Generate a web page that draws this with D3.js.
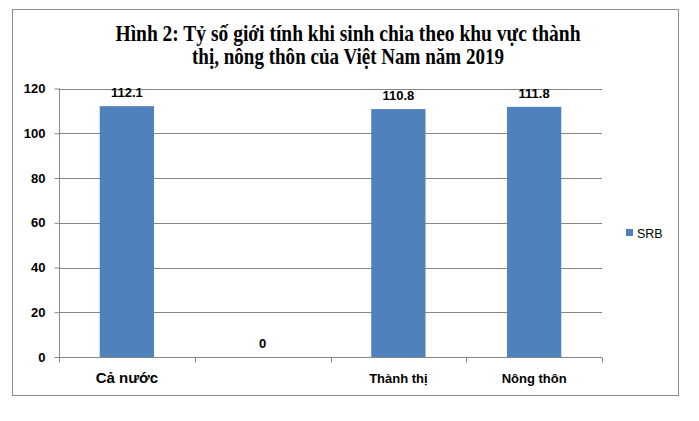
<!DOCTYPE html>
<html><head><meta charset="utf-8">
<script src="https://cdn.jsdelivr.net/npm/d3@7"></script>
<style>body{margin:0;background:#fff}</style>
</head><body>
<svg id="c" width="699" height="421"></svg>
<script>
const titleLines = ["Hình 2: Tỷ số giới tính khi sinh chia theo khu vực thành", "thị, nông thôn của Việt Nam năm 2019"];
const categories = ["Cả nước", "", "Thành thị", "Nông thôn"];
const srbValues = [112.1, 0, 110.8, 111.8];
const valueLabels = ["112.1", "0", "110.8", "111.8"];
const yTicks = [0, 20, 40, 60, 80, 100, 120];
const seriesName = "SRB";

const svg = d3.select("#c");
const sans = "'Liberation Sans', Arial, sans-serif";
const grid = "#868686";

svg.append("rect").attr("x", 12.5).attr("y", 9.5).attr("width", 666).attr("height", 386)
  .attr("fill", "#fff").attr("stroke", "#8c8c8c").attr("stroke-width", 1);

const tl = [465, 312];
const ty = [41, 64];
titleLines.forEach((t, i) => {
  svg.append("text").attr("x", 348).attr("y", ty[i]).attr("text-anchor", "middle")
    .attr("font-family", "'Liberation Serif', 'Times New Roman', serif").attr("font-weight", "bold")
    .attr("font-size", 23).attr("textLength", tl[i]).attr("lengthAdjust", "spacingAndGlyphs")
    .attr("fill", "#000").text(t);
});

const x = d3.scaleBand().domain(d3.range(categories.length)).range([59, 602]).paddingInner(0).paddingOuter(0);
const y = d3.scaleLinear().domain([0, 120]).range([357, 88.5]);

const g = svg.append("g");
g.selectAll("line.grid").data(yTicks.filter(d => d > 0)).join("line")
  .attr("x1", 59).attr("x2", 602).attr("y1", d => Math.round(y(d)) + 0.5).attr("y2", d => Math.round(y(d)) + 0.5)
  .attr("stroke", grid).attr("stroke-width", 1);

const bw = x.bandwidth() * 0.4;
g.selectAll("rect.bar").data(srbValues).join("rect")
  .attr("x", (d, i) => x(i) + (x.bandwidth() - bw) / 2)
  .attr("width", bw)
  .attr("y", d => y(d)).attr("height", d => y(0) - y(d))
  .attr("fill", "#4F81BD");

const yAxis = d3.axisLeft(y).tickValues(yTicks).tickSize(5).tickPadding(9);
const ya = svg.append("g").attr("transform", "translate(59.5,0)").call(yAxis);
ya.select(".domain").attr("stroke", grid).attr("d", `M0,${y(120)}V${y(0)}`);
ya.selectAll(".tick line").attr("stroke", grid).attr("x2", -5);
ya.selectAll(".tick text").attr("font-family", sans).attr("font-weight", "bold").attr("font-size", 13).attr("fill", "#000");

const xa = svg.append("g").attr("transform", `translate(0,${Math.round(y(0)) + 0.5})`);
xa.append("line").attr("x1", 59).attr("x2", 602).attr("stroke", grid);
const tickX = d3.range(categories.length + 1).map(i => i < categories.length ? x(i) : x(categories.length - 1) + x.bandwidth());
xa.selectAll("line.t").data(tickX).join("line")
  .attr("x1", d => Math.round(d) + 0.5).attr("x2", d => Math.round(d) + 0.5).attr("y1", 0).attr("y2", 5)
  .attr("stroke", grid);
xa.selectAll("text").data(categories).join("text")
  .attr("x", (d, i) => x(i) + x.bandwidth() / 2).attr("y", 25)
  .attr("text-anchor", "middle").attr("font-family", sans).attr("font-weight", "bold")
  .attr("font-size", (d, i) => i === 0 ? 15 : 13).attr("fill", "#000").text(d => d);

g.selectAll("text.v").data(srbValues).join("text")
  .attr("x", (d, i) => x(i) + x.bandwidth() / 2).attr("y", d => y(d) - 9)
  .attr("text-anchor", "middle").attr("font-family", sans).attr("font-weight", "bold")
  .attr("font-size", 13).attr("fill", "#000").text((d, i) => valueLabels[i]);

svg.append("rect").attr("x", 626).attr("y", 229).attr("width", 7).attr("height", 7).attr("fill", "#4F81BD");
svg.append("text").attr("x", 637).attr("y", 237.5).attr("font-family", sans).attr("font-size", 12.5)
  .attr("fill", "#000").text(seriesName);
</script>
</body></html>
